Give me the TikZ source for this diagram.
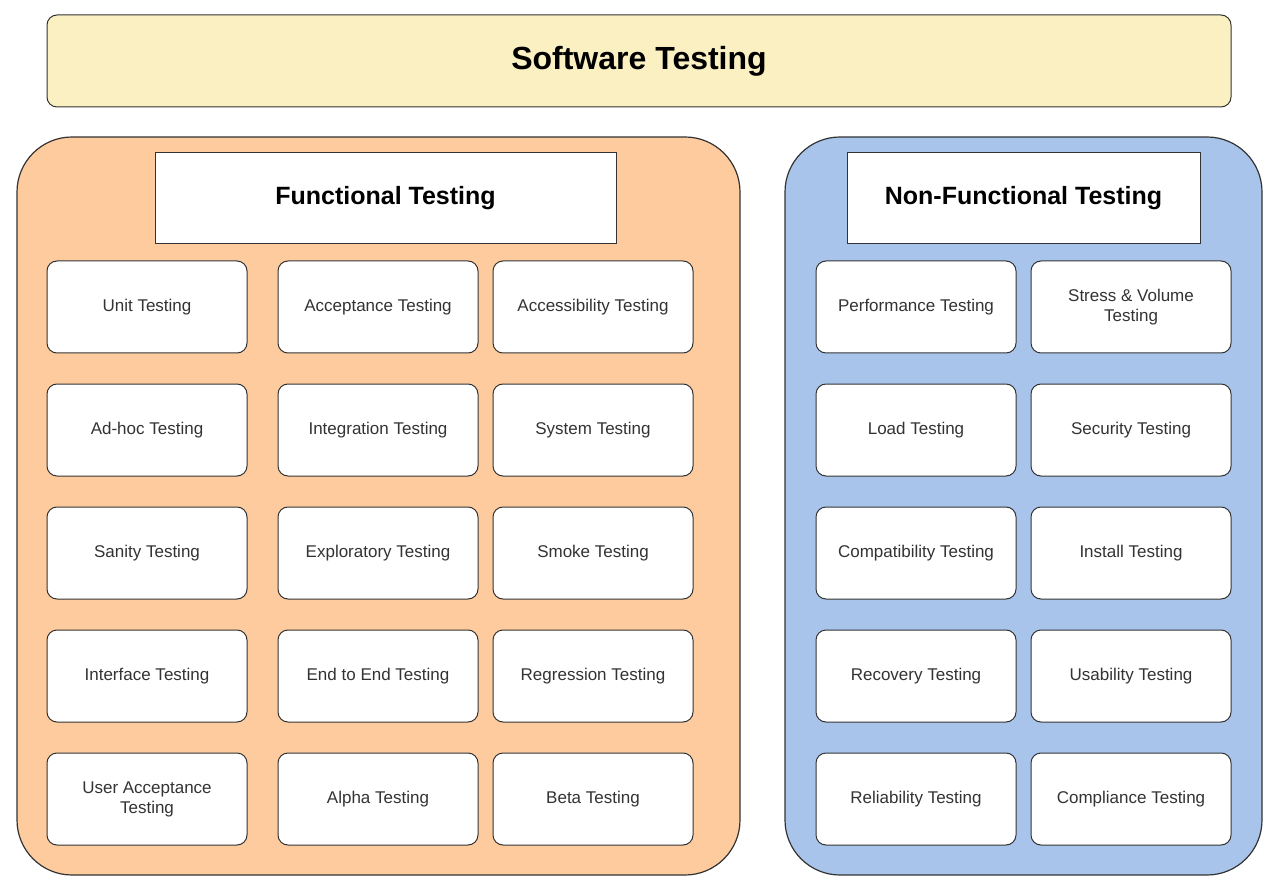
\documentclass[tikz,border=0pt]{standalone}
\usepackage{fontspec}
\setmainfont{Liberation Sans}
\definecolor{titlefill}{HTML}{FBF0C2}
\definecolor{orangefill}{HTML}{FDCB9D}
\definecolor{bluefill}{HTML}{A9C4EB}
\definecolor{edge}{HTML}{333333}
\begin{document}
\begin{tikzpicture}[x=1pt,y=-1pt,
  panel/.style={draw=edge,line width=1.2pt,rounded corners=55pt},
  head/.style={draw=edge,line width=1pt,fill=white,font=\bfseries\fontsize{25}{28}\selectfont},
  item/.style={draw=edge,line width=1pt,fill=white,rounded corners=10pt,minimum width=200pt,minimum height=92pt,align=center,font=\fontsize{17}{20}\selectfont,text=black!80}]
\useasboundingbox (0,0) rectangle (1274,890);
\node[draw=edge,line width=1pt,fill=titlefill,rounded corners=10pt,minimum width=1184pt,minimum height=92pt,font=\bfseries\fontsize{32}{36}\selectfont] (title) at (639,61) {Software Testing};
\draw[panel,fill=orangefill] (17,137) rectangle (740,875);
\draw[panel,fill=bluefill] (785,137) rectangle (1262,875);
\node[head,minimum width=461pt,minimum height=91pt] (fh) at (385.5,198.5) {Functional Testing};
\node[head,minimum width=353pt,minimum height=91pt] (nfh) at (1023.5,198.5) {Non-Functional Testing};
\node[item] (f11) at (147,307) {Unit Testing};
\node[item] (f12) at (378,307) {Acceptance Testing};
\node[item] (f13) at (593,307) {Accessibility Testing};
\node[item] (f21) at (147,430) {Ad-hoc Testing};
\node[item] (f22) at (378,430) {Integration Testing};
\node[item] (f23) at (593,430) {System Testing};
\node[item] (f31) at (147,553) {Sanity Testing};
\node[item] (f32) at (378,553) {Exploratory Testing};
\node[item] (f33) at (593,553) {Smoke Testing};
\node[item] (f41) at (147,676) {Interface Testing};
\node[item] (f42) at (378,676) {End to End Testing};
\node[item] (f43) at (593,676) {Regression Testing};
\node[item] (f51) at (147,799) {User Acceptance\\Testing};
\node[item] (f52) at (378,799) {Alpha Testing};
\node[item] (f53) at (593,799) {Beta Testing};
\node[item] (n11) at (916,307) {Performance Testing};
\node[item] (n12) at (1131,307) {Stress \& Volume\\Testing};
\node[item] (n21) at (916,430) {Load Testing};
\node[item] (n22) at (1131,430) {Security Testing};
\node[item] (n31) at (916,553) {Compatibility Testing};
\node[item] (n32) at (1131,553) {Install Testing};
\node[item] (n41) at (916,676) {Recovery Testing};
\node[item] (n42) at (1131,676) {Usability Testing};
\node[item] (n51) at (916,799) {Reliability Testing};
\node[item] (n52) at (1131,799) {Compliance Testing};
\end{tikzpicture}
\end{document}
